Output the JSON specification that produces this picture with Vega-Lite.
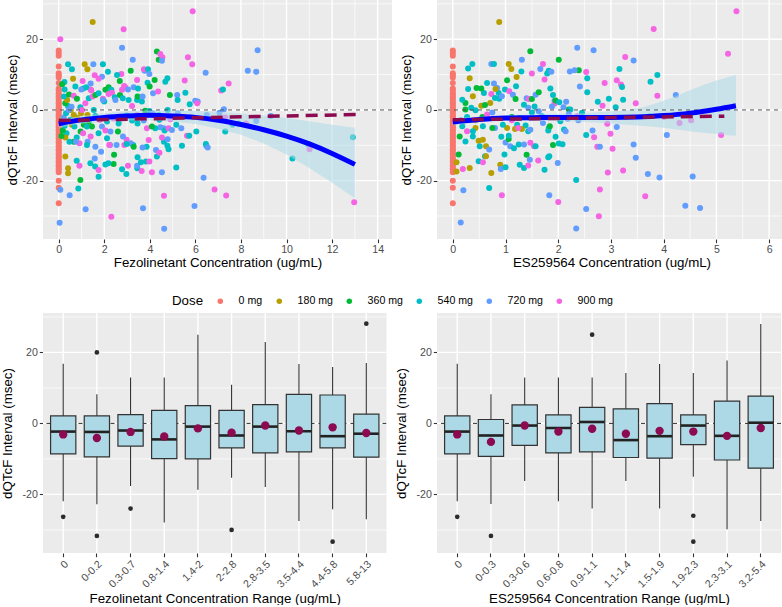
{
  "$schema": "https://vega.github.io/schema/vega-lite/v6.json",
  "background": "white",
  "padding": {"left": 0, "top": 0, "right": 0, "bottom": 0},
  "config": {
    "font": "Liberation Sans",
    "view": {"fill": "#EBEBEB", "stroke": null},
    "axis": {
      "domain": false, "grid": false,
      "labelColor": "#4D4D4D", "labelFontSize": 10.6, "labelPadding": 2, "labelFlush": false, "labelOverlap": false,
      "tickColor": "#333333", "tickSize": 3.7, "tickWidth": 1.1,
      "titleColor": "#000000", "titleFontSize": 13.3, "titleFontWeight": "normal"
    },
    "legend": {
      "titleFontSize": 13.3, "titleFontWeight": "normal", "titleColor": "#000000",
      "labelFontSize": 10.6, "labelColor": "#000000"
    }
  },
  "datasets": {
    "gFezMajor": [{"v":0},{"v":2},{"v":4},{"v":6},{"v":8},{"v":10},{"v":12},{"v":14}],
    "gFezMinor": [{"v":1},{"v":3},{"v":5},{"v":7},{"v":9},{"v":11},{"v":13}],
    "gEsMajor": [{"v":0},{"v":1},{"v":2},{"v":3},{"v":4},{"v":5},{"v":6}],
    "gEsMinor": [{"v":0.5},{"v":1.5},{"v":2.5},{"v":3.5},{"v":4.5},{"v":5.5}],
    "gYMajor": [{"v":-20},{"v":0},{"v":20}],
    "gYMinor": [{"v":-30},{"v":-10},{"v":10},{"v":30}],
    "pbo": [
      {"d":"0 mg","c":0,"q":16.8},{"d":"0 mg","c":0,"q":16.1},{"d":"0 mg","c":0,"q":15.3},{"d":"0 mg","c":0,"q":12.3},
      {"d":"0 mg","c":0,"q":10.4},{"d":"0 mg","c":0,"q":9.8},{"d":"0 mg","c":0,"q":9.2},{"d":"0 mg","c":0,"q":7.6},
      {"d":"0 mg","c":0,"q":6.1},{"d":"0 mg","c":0,"q":5.6},{"d":"0 mg","c":0,"q":4.8},{"d":"0 mg","c":0,"q":4.4},
      {"d":"0 mg","c":0,"q":3.7},{"d":"0 mg","c":0,"q":3.3},{"d":"0 mg","c":0,"q":2.6},{"d":"0 mg","c":0,"q":2.0},
      {"d":"0 mg","c":0,"q":1.7},{"d":"0 mg","c":0,"q":1.0},{"d":"0 mg","c":0,"q":0.4},{"d":"0 mg","c":0,"q":-0.2},
      {"d":"0 mg","c":0,"q":-0.6},{"d":"0 mg","c":0,"q":-1.3},{"d":"0 mg","c":0,"q":-1.8},{"d":"0 mg","c":0,"q":-2.1},
      {"d":"0 mg","c":0,"q":-2.9},{"d":"0 mg","c":0,"q":-3.4},{"d":"0 mg","c":0,"q":-3.8},{"d":"0 mg","c":0,"q":-4.5},
      {"d":"0 mg","c":0,"q":-4.9},{"d":"0 mg","c":0,"q":-5.6},{"d":"0 mg","c":0,"q":-6.0},{"d":"0 mg","c":0,"q":-6.7},
      {"d":"0 mg","c":0,"q":-7.1},{"d":"0 mg","c":0,"q":-7.8},{"d":"0 mg","c":0,"q":-8.2},{"d":"0 mg","c":0,"q":-8.9},
      {"d":"0 mg","c":0,"q":-9.3},{"d":"0 mg","c":0,"q":-10.0},{"d":"0 mg","c":0,"q":-10.4},{"d":"0 mg","c":0,"q":-11.1},
      {"d":"0 mg","c":0,"q":-11.5},{"d":"0 mg","c":0,"q":-12.2},{"d":"0 mg","c":0,"q":-12.6},{"d":"0 mg","c":0,"q":-13.3},
      {"d":"0 mg","c":0,"q":-13.7},{"d":"0 mg","c":0,"q":-14.4},{"d":"0 mg","c":0,"q":-14.8},{"d":"0 mg","c":0,"q":-15.5},
      {"d":"0 mg","c":0,"q":-15.9},{"d":"0 mg","c":0,"q":-16.6},{"d":"0 mg","c":0,"q":-17.0},{"d":"0 mg","c":0,"q":-17.6},
      {"d":"0 mg","c":0,"q":-20.0},{"d":"0 mg","c":0,"q":-22.0},{"d":"0 mg","c":0,"q":-26.4}
    ],
    "fez": [
      {"d":"180 mg","c":1.49,"q":24.9},{"d":"900 mg","c":5.88,"q":27.9},{"d":"900 mg","c":2.85,"q":22.8},{"d":"900 mg","c":0.07,"q":20.0},
      {"d":"720 mg","c":2.78,"q":17.6},{"d":"720 mg","c":8.73,"q":16.9},{"d":"360 mg","c":4.31,"q":16.5},{"d":"360 mg","c":4.39,"q":14.2},
      {"d":"900 mg","c":4.46,"q":15.8},{"d":"900 mg","c":4.55,"q":14.9},{"d":"720 mg","c":4.53,"q":13.9},{"d":"900 mg","c":5.67,"q":14.9},
      {"d":"720 mg","c":3.25,"q":14.2},{"d":"540 mg","c":0.41,"q":12.9},{"d":"180 mg","c":1.14,"q":12.9},{"d":"720 mg","c":1.52,"q":12.9},
      {"d":"540 mg","c":1.94,"q":12.9},{"d":"900 mg","c":5.86,"q":12.9},{"d":"540 mg","c":0.58,"q":11.5},{"d":"180 mg","c":1.26,"q":11.5},
      {"d":"360 mg","c":3.16,"q":11.1},{"d":"720 mg","c":6.45,"q":10.5},{"d":"720 mg","c":8.3,"q":11.1},{"d":"720 mg","c":8.67,"q":10.8},
      {"d":"540 mg","c":2.16,"q":10.8},{"d":"900 mg","c":2.75,"q":10.2},{"d":"360 mg","c":2.68,"q":8.2},{"d":"720 mg","c":3.77,"q":11.1},
      {"d":"900 mg","c":3.74,"q":11.5},{"d":"540 mg","c":3.92,"q":11.5},{"d":"720 mg","c":3.98,"q":10.2},{"d":"540 mg","c":2.56,"q":9.9},
      {"d":"720 mg","c":1.9,"q":9.4},{"d":"900 mg","c":1.75,"q":8.8},{"d":"900 mg","c":1.58,"q":9.8},{"d":"900 mg","c":1.05,"q":8.2},
      {"d":"180 mg","c":0.63,"q":8.8},{"d":"540 mg","c":0.25,"q":7.9},{"d":"540 mg","c":1.08,"q":6.1},{"d":"720 mg","c":0.99,"q":5.8},
      {"d":"360 mg","c":4.21,"q":8.5},{"d":"540 mg","c":4.68,"q":8.0},{"d":"540 mg","c":4.77,"q":9.0},{"d":"900 mg","c":7.46,"q":7.5},
      {"d":"900 mg","c":7.13,"q":5.5},{"d":"540 mg","c":7.21,"q":5.8},{"d":"540 mg","c":5.56,"q":4.9},{"d":"900 mg","c":5.53,"q":8.3},
      {"d":"360 mg","c":4.88,"q":4.2},{"d":"720 mg","c":5.2,"q":4.2},{"d":"540 mg","c":5.22,"q":2.8},{"d":"720 mg","c":5.99,"q":2.6},
      {"d":"720 mg","c":6.1,"q":2.4},{"d":"900 mg","c":6.08,"q":1.9},{"d":"540 mg","c":5.75,"q":1.6},{"d":"720 mg","c":6.5,"q":-1.4},
      {"d":"720 mg","c":7.25,"q":0.2},{"d":"720 mg","c":7.06,"q":-0.8},{"d":"900 mg","c":7.31,"q":-2.1},{"d":"540 mg","c":7.63,"q":-4.2},
      {"d":"540 mg","c":7.89,"q":-3.8},{"d":"900 mg","c":8.22,"q":-3.8},{"d":"720 mg","c":8.67,"q":-3.1},{"d":"720 mg","c":9.31,"q":-1.7},
      {"d":"540 mg","c":7.31,"q":-6.1},{"d":"540 mg","c":6.04,"q":-6.1},{"d":"900 mg","c":5.63,"q":-7.3},{"d":"540 mg","c":5.73,"q":-7.3},
      {"d":"540 mg","c":5.41,"q":-10.1},{"d":"540 mg","c":5.16,"q":-16.3},{"d":"720 mg","c":6.48,"q":-10.1},{"d":"540 mg","c":6.46,"q":-9.6},
      {"d":"720 mg","c":6.54,"q":-10.6},{"d":"720 mg","c":6.36,"q":-19.2},{"d":"720 mg","c":5.96,"q":-27.2},{"d":"900 mg","c":6.84,"q":-22.5},
      {"d":"900 mg","c":7.35,"q":-24.2},{"d":"540 mg","c":10.26,"q":-13.7},{"d":"540 mg","c":10.94,"q":-9.6},{"d":"900 mg","c":11.01,"q":-11.1},
      {"d":"540 mg","c":12.91,"q":-7.7},{"d":"900 mg","c":12.97,"q":-26.1},{"d":"720 mg","c":4.63,"q":-33.6},{"d":"900 mg","c":4.62,"q":-24.3},
      {"d":"720 mg","c":4.53,"q":-17.6},{"d":"720 mg","c":3.7,"q":-27.8},{"d":"900 mg","c":2.31,"q":-30.2},{"d":"720 mg","c":1.18,"q":-28.1},
      {"d":"720 mg","c":0.48,"q":-24.1},{"d":"720 mg","c":0.04,"q":-31.9},{"d":"720 mg","c":0.07,"q":-22.6},{"d":"540 mg","c":0.86,"q":-22.2},
      {"d":"360 mg","c":0.95,"q":-19.8},{"d":"540 mg","c":1.75,"q":-18.9},{"d":"900 mg","c":0.91,"q":-15.8},{"d":"540 mg","c":0.79,"q":-14.4},
      {"d":"180 mg","c":0.41,"q":-17.9},{"d":"180 mg","c":0.41,"q":-16.5},{"d":"180 mg","c":0.29,"q":-13.2},{"d":"540 mg","c":1.39,"q":-15.1},
      {"d":"720 mg","c":1.58,"q":-13.7},{"d":"540 mg","c":1.6,"q":-16.0},{"d":"900 mg","c":1.75,"q":-17.0},{"d":"540 mg","c":2.05,"q":-15.4},
      {"d":"720 mg","c":1.86,"q":-11.8},{"d":"360 mg","c":2.41,"q":-15.3},{"d":"540 mg","c":2.97,"q":-18.1},{"d":"540 mg","c":2.78,"q":-16.8},
      {"d":"900 mg","c":3.04,"q":-15.8},{"d":"360 mg","c":2.6,"q":-6.1},{"d":"540 mg","c":3.45,"q":-16.5},{"d":"720 mg","c":3.44,"q":-15.8},
      {"d":"900 mg","c":3.64,"q":-17.3},{"d":"900 mg","c":4.09,"q":-17.6},{"d":"540 mg","c":3.83,"q":-14.6},{"d":"540 mg","c":3.61,"q":-14.8},
      {"d":"900 mg","c":3.98,"q":-14.6},{"d":"720 mg","c":4.27,"q":-11.3},{"d":"540 mg","c":3.86,"q":-10.4},{"d":"720 mg","c":3.68,"q":-10.6},
      {"d":"540 mg","c":3.46,"q":-13.4},{"d":"540 mg","c":3.27,"q":-9.9},{"d":"720 mg","c":3.16,"q":-9.4},{"d":"900 mg","c":2.88,"q":-9.9},
      {"d":"360 mg","c":3.29,"q":-10.4},{"d":"900 mg","c":2.98,"q":-8.4},{"d":"540 mg","c":2.98,"q":-9.6},{"d":"720 mg","c":2.54,"q":-9.9},
      {"d":"720 mg","c":2.25,"q":-9.9},{"d":"540 mg","c":2.12,"q":-8.0},{"d":"540 mg","c":2.18,"q":-15.1},{"d":"360 mg","c":2.43,"q":-12.7},
      {"d":"720 mg","c":2.82,"q":-7.5},{"d":"540 mg","c":2.63,"q":-3.8},{"d":"900 mg","c":2.22,"q":-9.9},{"d":"720 mg","c":1.61,"q":-10.4},
      {"d":"720 mg","c":1.27,"q":-9.0},{"d":"540 mg","c":1.24,"q":-9.9},{"d":"900 mg","c":1.4,"q":-7.5},{"d":"360 mg","c":0.96,"q":-6.1},
      {"d":"900 mg","c":1.07,"q":-6.6},{"d":"540 mg","c":0.79,"q":-7.8},{"d":"360 mg","c":0.66,"q":-9.0},{"d":"540 mg","c":0.47,"q":-9.0},
      {"d":"900 mg","c":0.91,"q":-9.4},{"d":"720 mg","c":0.75,"q":-9.0},{"d":"540 mg","c":0.34,"q":-6.6},{"d":"180 mg","c":0.29,"q":-7.8},
      {"d":"360 mg","c":0.12,"q":-7.4},{"d":"360 mg","c":0.18,"q":-5.8},{"d":"540 mg","c":0.26,"q":-4.5},{"d":"180 mg","c":0.15,"q":-2.8},
      {"d":"720 mg","c":0.22,"q":-2.1},{"d":"540 mg","c":0.32,"q":-0.9},{"d":"180 mg","c":0.53,"q":0.0},{"d":"540 mg","c":0.41,"q":1.1},
      {"d":"360 mg","c":0.29,"q":1.9},{"d":"180 mg","c":0.37,"q":2.8},{"d":"540 mg","c":0.23,"q":3.8},{"d":"360 mg","c":0.45,"q":4.4},
      {"d":"900 mg","c":0.66,"q":4.0},{"d":"540 mg","c":0.26,"q":5.8},{"d":"360 mg","c":0.15,"q":7.3},{"d":"540 mg","c":0.73,"q":6.6},
      {"d":"360 mg","c":0.8,"q":3.2},{"d":"180 mg","c":0.66,"q":-1.4},{"d":"180 mg","c":0.8,"q":-2.2},{"d":"180 mg","c":0.98,"q":-0.9},
      {"d":"540 mg","c":0.95,"q":0.8},{"d":"900 mg","c":1.02,"q":0.0},{"d":"720 mg","c":0.56,"q":0.9},{"d":"720 mg","c":0.44,"q":0.0},
      {"d":"540 mg","c":0.51,"q":-2.8},{"d":"180 mg","c":0.58,"q":-4.2},{"d":"540 mg","c":0.69,"q":-4.7},{"d":"360 mg","c":1.1,"q":-4.2},
      {"d":"540 mg","c":1.24,"q":-4.7},{"d":"360 mg","c":1.46,"q":-4.7},{"d":"360 mg","c":1.32,"q":-3.3},{"d":"180 mg","c":1.26,"q":-1.4},
      {"d":"540 mg","c":1.54,"q":0.0},{"d":"900 mg","c":1.17,"q":1.9},{"d":"540 mg","c":1.32,"q":3.3},{"d":"900 mg","c":1.49,"q":3.8},
      {"d":"360 mg","c":1.61,"q":4.2},{"d":"900 mg","c":1.43,"q":5.5},{"d":"900 mg","c":1.4,"q":5.8},{"d":"540 mg","c":1.21,"q":6.4},
      {"d":"720 mg","c":1.4,"q":7.5},{"d":"540 mg","c":1.75,"q":4.7},{"d":"900 mg","c":1.94,"q":3.2},{"d":"540 mg","c":2.0,"q":2.4},
      {"d":"360 mg","c":2.05,"q":5.7},{"d":"720 mg","c":1.94,"q":2.8},{"d":"360 mg","c":2.19,"q":6.4},{"d":"540 mg","c":2.31,"q":5.7},
      {"d":"900 mg","c":2.34,"q":4.9},{"d":"900 mg","c":2.19,"q":4.5},{"d":"540 mg","c":2.46,"q":3.6},{"d":"720 mg","c":2.49,"q":2.8},
      {"d":"360 mg","c":2.69,"q":4.2},{"d":"900 mg","c":2.78,"q":5.7},{"d":"900 mg","c":2.87,"q":6.8},{"d":"900 mg","c":2.92,"q":6.4},
      {"d":"720 mg","c":3.04,"q":5.8},{"d":"540 mg","c":2.81,"q":3.3},{"d":"540 mg","c":3.07,"q":2.8},{"d":"900 mg","c":3.22,"q":1.1},
      {"d":"540 mg","c":3.44,"q":2.8},{"d":"360 mg","c":3.46,"q":3.8},{"d":"540 mg","c":3.65,"q":2.4},{"d":"720 mg","c":3.68,"q":3.8},
      {"d":"720 mg","c":3.29,"q":6.4},{"d":"540 mg","c":3.48,"q":6.1},{"d":"900 mg","c":3.44,"q":8.5},{"d":"540 mg","c":3.9,"q":7.7},
      {"d":"360 mg","c":3.99,"q":6.6},{"d":"720 mg","c":4.14,"q":4.7},{"d":"900 mg","c":4.36,"q":5.2},{"d":"360 mg","c":3.8,"q":-0.2},
      {"d":"540 mg","c":3.98,"q":-0.3},{"d":"720 mg","c":4.12,"q":-0.9},{"d":"540 mg","c":4.39,"q":-1.4},{"d":"900 mg","c":4.53,"q":-2.1},
      {"d":"540 mg","c":4.42,"q":-2.8},{"d":"720 mg","c":4.46,"q":-4.9},{"d":"540 mg","c":4.24,"q":-5.2},{"d":"720 mg","c":4.61,"q":-5.2},
      {"d":"540 mg","c":4.65,"q":-5.8},{"d":"900 mg","c":4.82,"q":-5.2},{"d":"720 mg","c":4.97,"q":-5.7},{"d":"540 mg","c":5.16,"q":-4.2},
      {"d":"720 mg","c":5.38,"q":-5.2},{"d":"900 mg","c":4.9,"q":-2.6},{"d":"540 mg","c":4.78,"q":0.0},{"d":"720 mg","c":5.23,"q":-0.9},
      {"d":"540 mg","c":3.46,"q":-3.8},{"d":"720 mg","c":3.73,"q":-3.0},{"d":"900 mg","c":3.87,"q":-5.2},{"d":"540 mg","c":3.22,"q":-3.0},
      {"d":"900 mg","c":3.44,"q":-1.4},{"d":"540 mg","c":2.99,"q":-1.6},{"d":"720 mg","c":2.73,"q":-2.4},{"d":"900 mg","c":2.41,"q":-2.4},
      {"d":"540 mg","c":2.12,"q":-3.3},{"d":"720 mg","c":1.9,"q":-4.7},{"d":"900 mg","c":2.05,"q":-5.8},{"d":"720 mg","c":2.27,"q":-6.1},
      {"d":"540 mg","c":1.75,"q":-6.6},{"d":"900 mg","c":1.8,"q":-2.8},{"d":"540 mg","c":1.61,"q":-1.7},{"d":"360 mg","c":4.09,"q":-4.7},
      {"d":"900 mg","c":3.95,"q":-8.5},{"d":"540 mg","c":4.62,"q":-9.0},{"d":"540 mg","c":4.77,"q":-10.1},{"d":"900 mg","c":4.53,"q":-7.8},
      {"d":"720 mg","c":4.78,"q":-8.3},{"d":"540 mg","c":4.31,"q":-13.2},{"d":"900 mg","c":4.42,"q":-12.1},{"d":"540 mg","c":4.82,"q":-11.1}
    ],
    "es": [
      {"d":"180 mg","c":0.88,"q":24.9},{"d":"900 mg","c":5.38,"q":27.9},{"d":"900 mg","c":3.81,"q":22.9},{"d":"720 mg","c":2.36,"q":17.6},
      {"d":"720 mg","c":2.67,"q":16.9},{"d":"360 mg","c":1.47,"q":16.6},{"d":"900 mg","c":5.22,"q":15.9},{"d":"360 mg","c":2.01,"q":14.2},
      {"d":"720 mg","c":1.31,"q":14.2},{"d":"900 mg","c":3.27,"q":15.0},{"d":"720 mg","c":3.43,"q":14.0},{"d":"540 mg","c":0.37,"q":13.0},
      {"d":"540 mg","c":0.29,"q":11.7},{"d":"720 mg","c":0.73,"q":13.0},{"d":"540 mg","c":0.78,"q":13.0},{"d":"180 mg","c":1.06,"q":13.0},
      {"d":"180 mg","c":1.11,"q":11.6},{"d":"900 mg","c":1.71,"q":13.0},{"d":"540 mg","c":1.30,"q":10.9},{"d":"900 mg","c":1.5,"q":10.3},
      {"d":"720 mg","c":1.66,"q":11.6},{"d":"540 mg","c":1.79,"q":10.3},{"d":"540 mg","c":1.82,"q":11.1},{"d":"720 mg","c":1.87,"q":10.8},
      {"d":"360 mg","c":2.39,"q":11.2},{"d":"720 mg","c":2.22,"q":10.9},{"d":"720 mg","c":2.31,"q":11.2},{"d":"900 mg","c":2.53,"q":10.7},
      {"d":"540 mg","c":2.55,"q":9.0},{"d":"540 mg","c":3.16,"q":11.6},{"d":"900 mg","c":3.11,"q":8.4},{"d":"540 mg","c":3.75,"q":8.0},
      {"d":"540 mg","c":3.88,"q":9.9},{"d":"900 mg","c":2.88,"q":7.6},{"d":"720 mg","c":2.41,"q":6.6},{"d":"900 mg","c":3.19,"q":7.2},
      {"d":"540 mg","c":3.21,"q":6.5},{"d":"540 mg","c":2.55,"q":5.0},{"d":"720 mg","c":4.23,"q":4.2},{"d":"900 mg","c":3.88,"q":4.0},
      {"d":"540 mg","c":2.96,"q":3.2},{"d":"540 mg","c":3.23,"q":2.9},{"d":"540 mg","c":2.75,"q":2.3},{"d":"900 mg","c":2.84,"q":1.2},
      {"d":"900 mg","c":3.47,"q":1.9},{"d":"540 mg","c":3.09,"q":0.8},{"d":"540 mg","c":3.73,"q":-1.8},{"d":"900 mg","c":4.01,"q":-2.0},
      {"d":"720 mg","c":3.11,"q":-4.8},{"d":"900 mg","c":4.3,"q":-3.7},{"d":"900 mg","c":4.52,"q":-2.9},{"d":"900 mg","c":5.09,"q":-7.1},
      {"d":"720 mg","c":4.06,"q":-7.1},{"d":"900 mg","c":2.99,"q":-6.7},{"d":"900 mg","c":2.93,"q":-3.9},{"d":"720 mg","c":2.65,"q":-5.8},
      {"d":"900 mg","c":2.68,"q":-7.7},{"d":"540 mg","c":2.53,"q":-7.1},{"d":"900 mg","c":3.03,"q":-11.0},{"d":"900 mg","c":2.74,"q":-10.4},
      {"d":"720 mg","c":2.79,"q":-10.4},{"d":"720 mg","c":3.43,"q":-9.8},{"d":"720 mg","c":3.47,"q":-13.5},{"d":"900 mg","c":3.23,"q":-17.1},
      {"d":"900 mg","c":2.94,"q":-17.7},{"d":"720 mg","c":3.7,"q":-18.1},{"d":"720 mg","c":3.92,"q":-19.1},{"d":"720 mg","c":4.55,"q":-18.8},
      {"d":"900 mg","c":2.79,"q":-22.5},{"d":"900 mg","c":3.65,"q":-24.4},{"d":"720 mg","c":4.41,"q":-27.1},{"d":"720 mg","c":4.69,"q":-27.7},
      {"d":"900 mg","c":2.77,"q":-30.1},{"d":"720 mg","c":2.53,"q":-28.0},{"d":"720 mg","c":2.34,"q":-33.5},{"d":"540 mg","c":2.34,"q":-19.8},
      {"d":"900 mg","c":2.0,"q":-26.0},{"d":"720 mg","c":1.83,"q":-24.1},{"d":"900 mg","c":0.93,"q":-24.1},{"d":"720 mg","c":0.15,"q":-31.8},
      {"d":"720 mg","c":0.2,"q":-22.7},{"d":"540 mg","c":0.69,"q":-22.1},{"d":"900 mg","c":0.19,"q":-16.7},{"d":"180 mg","c":0.07,"q":-17.4},
      {"d":"180 mg","c":0.07,"q":-14.8},{"d":"180 mg","c":0.32,"q":-16.4},{"d":"360 mg","c":0.11,"q":-12.6},{"d":"360 mg","c":0.13,"q":-7.5},
      {"d":"180 mg","c":0.49,"q":-8.7},{"d":"540 mg","c":0.24,"q":-8.9},{"d":"540 mg","c":0.38,"q":-7.5},{"d":"540 mg","c":0.51,"q":-10.3},
      {"d":"540 mg","c":0.49,"q":-14.5},{"d":"180 mg","c":0.57,"q":-8.4},{"d":"540 mg","c":0.61,"q":-13.1},{"d":"900 mg","c":0.57,"q":-14.8},
      {"d":"180 mg","c":0.63,"q":-10.3},{"d":"720 mg","c":0.69,"q":-11.2},{"d":"180 mg","c":0.63,"q":-13.1},{"d":"180 mg","c":0.73,"q":-17.8},
      {"d":"180 mg","c":0.9,"q":-15.5},{"d":"720 mg","c":0.91,"q":-16.7},{"d":"540 mg","c":1.0,"q":-16.2},{"d":"540 mg","c":0.98,"q":-12.6},
      {"d":"720 mg","c":1.0,"q":-9.2},{"d":"540 mg","c":0.92,"q":-7.6},{"d":"360 mg","c":1.06,"q":-8.2},{"d":"540 mg","c":1.06,"q":-7.3},
      {"d":"180 mg","c":1.03,"q":-5.1},{"d":"540 mg","c":0.95,"q":-4.2},{"d":"720 mg","c":1.09,"q":-10.3},{"d":"540 mg","c":1.16,"q":-10.8},
      {"d":"540 mg","c":1.25,"q":-9.8},{"d":"720 mg","c":1.35,"q":-9.8},{"d":"540 mg","c":1.27,"q":-15.5},{"d":"540 mg","c":1.35,"q":-16.4},
      {"d":"900 mg","c":1.43,"q":-15.7},{"d":"360 mg","c":1.4,"q":-12.7},{"d":"720 mg","c":1.46,"q":-14.1},{"d":"900 mg","c":1.47,"q":-9.3},
      {"d":"900 mg","c":1.54,"q":-10.3},{"d":"540 mg","c":1.57,"q":-10.3},{"d":"900 mg","c":1.62,"q":-14.3},{"d":"540 mg","c":1.74,"q":-16.9},
      {"d":"540 mg","c":1.81,"q":-13.4},{"d":"540 mg","c":1.83,"q":-13.1},{"d":"360 mg","c":1.9,"q":-9.9},{"d":"540 mg","c":2.01,"q":-9.5},
      {"d":"720 mg","c":1.99,"q":-15.0},{"d":"540 mg","c":2.08,"q":-9.7},{"d":"540 mg","c":2.11,"q":-5.5},{"d":"720 mg","c":2.14,"q":-6.0},
      {"d":"540 mg","c":1.95,"q":-7.6},{"d":"540 mg","c":1.82,"q":-5.1},{"d":"540 mg","c":1.81,"q":-5.8},{"d":"360 mg","c":1.84,"q":-4.6},
      {"d":"720 mg","c":1.71,"q":-3.7},{"d":"540 mg","c":1.69,"q":-1.8},{"d":"540 mg","c":1.43,"q":-6.0},{"d":"720 mg","c":1.47,"q":-5.6},
      {"d":"540 mg","c":1.38,"q":-4.4},{"d":"180 mg","c":1.31,"q":-5.4},{"d":"540 mg","c":1.22,"q":-4.2},{"d":"180 mg","c":1.18,"q":-5.4},
      {"d":"900 mg","c":1.12,"q":-2.9},{"d":"360 mg","c":1.12,"q":-2.0},{"d":"720 mg","c":0.8,"q":-5.1},{"d":"360 mg","c":0.75,"q":-5.1},
      {"d":"540 mg","c":0.57,"q":-4.6},{"d":"180 mg","c":0.43,"q":-5.1},{"d":"540 mg","c":0.38,"q":-6.0},{"d":"900 mg","c":0.27,"q":-6.0},
      {"d":"540 mg","c":0.18,"q":-4.6},{"d":"720 mg","c":0.15,"q":-2.9},{"d":"540 mg","c":0.27,"q":-2.0},{"d":"180 mg","c":0.43,"q":-2.9},
      {"d":"360 mg","c":0.56,"q":-2.0},{"d":"900 mg","c":0.65,"q":-1.3},{"d":"720 mg","c":0.75,"q":-0.7},{"d":"540 mg","c":0.43,"q":-0.1},
      {"d":"360 mg","c":0.24,"q":0.1},{"d":"540 mg","c":0.35,"q":0.6},{"d":"180 mg","c":0.54,"q":1.2},{"d":"360 mg","c":0.24,"q":2.0},
      {"d":"540 mg","c":0.18,"q":2.9},{"d":"180 mg","c":0.38,"q":3.9},{"d":"540 mg","c":0.59,"q":4.8},{"d":"360 mg","c":0.54,"q":6.1},
      {"d":"540 mg","c":0.29,"q":5.9},{"d":"360 mg","c":0.45,"q":6.2},{"d":"180 mg","c":0.32,"q":9.0},{"d":"540 mg","c":0.65,"q":7.6},
      {"d":"720 mg","c":0.78,"q":7.5},{"d":"720 mg","c":0.84,"q":6.2},{"d":"900 mg","c":0.73,"q":4.5},{"d":"540 mg","c":0.8,"q":3.4},
      {"d":"540 mg","c":0.87,"q":4.8},{"d":"180 mg","c":0.81,"q":5.9},{"d":"180 mg","c":0.71,"q":2.0},{"d":"360 mg","c":0.61,"q":1.4},
      {"d":"540 mg","c":0.88,"q":3.2},{"d":"720 mg","c":0.93,"q":3.9},{"d":"360 mg","c":1.03,"q":8.4},{"d":"540 mg","c":0.99,"q":5.8},
      {"d":"900 mg","c":1.07,"q":5.3},{"d":"540 mg","c":1.2,"q":6.7},{"d":"720 mg","c":1.14,"q":4.3},{"d":"360 mg","c":1.19,"q":3.1},
      {"d":"180 mg","c":1.21,"q":9.3},{"d":"720 mg","c":1.4,"q":3.3},{"d":"900 mg","c":1.44,"q":3.1},{"d":"360 mg","c":1.5,"q":3.1},
      {"d":"720 mg","c":1.57,"q":4.3},{"d":"360 mg","c":1.63,"q":5.0},{"d":"900 mg","c":1.74,"q":8.6},{"d":"540 mg","c":1.85,"q":6.1},
      {"d":"720 mg","c":1.93,"q":2.6},{"d":"900 mg","c":1.93,"q":1.8},{"d":"720 mg","c":1.88,"q":1.0},{"d":"540 mg","c":1.9,"q":4.2},
      {"d":"360 mg","c":1.95,"q":2.7},{"d":"540 mg","c":2.02,"q":2.2},{"d":"720 mg","c":2.15,"q":2.3},{"d":"360 mg","c":2.2,"q":0.1},
      {"d":"720 mg","c":2.1,"q":0.8},{"d":"540 mg","c":2.23,"q":0.1},{"d":"720 mg","c":2.2,"q":-1.2},{"d":"900 mg","c":2.36,"q":-1.8},
      {"d":"720 mg","c":2.38,"q":-2.9},{"d":"540 mg","c":2.04,"q":-3.2},{"d":"720 mg","c":2.18,"q":-2.5},{"d":"540 mg","c":1.5,"q":-0.7},
      {"d":"720 mg","c":1.63,"q":-0.4},{"d":"900 mg","c":1.24,"q":-5.1},{"d":"360 mg","c":1.26,"q":-2.3},{"d":"720 mg","c":1.43,"q":0.6},
      {"d":"540 mg","c":1.55,"q":1.0},{"d":"540 mg","c":1.35,"q":1.5},{"d":"540 mg","c":2.45,"q":-0.8}
    ],
    "fezFit": [
      {"c":0,"fit":-3.9,"lo":-5.0,"hi":-2.8},{"c":0.5,"fit":-3.3,"lo":-4.4,"hi":-2.2},{"c":1,"fit":-2.8,"lo":-3.9,"hi":-1.7},
      {"c":2,"fit":-2.1,"lo":-3.3,"hi":-0.9},{"c":3,"fit":-1.7,"lo":-3.0,"hi":-0.4},{"c":4,"fit":-1.5,"lo":-2.9,"hi":-0.1},
      {"c":5,"fit":-1.7,"lo":-3.3,"hi":-0.1},{"c":6,"fit":-2.1,"lo":-4.0,"hi":-0.2},{"c":7,"fit":-2.9,"lo":-5.3,"hi":-0.5},
      {"c":8,"fit":-4.1,"lo":-7.0,"hi":-1.0},{"c":9,"fit":-5.6,"lo":-9.5,"hi":-1.6},{"c":10,"fit":-7.4,"lo":-12.6,"hi":-2.3},
      {"c":11,"fit":-9.6,"lo":-16.4,"hi":-3.2},{"c":12,"fit":-12.3,"lo":-20.6,"hi":-4.2},{"c":13,"fit":-15.4,"lo":-25.0,"hi":-5.0}
    ],
    "esFit": [
      {"c":0,"fit":-3.4,"lo":-4.4,"hi":-2.4},{"c":0.5,"fit":-2.7,"lo":-3.5,"hi":-1.9},{"c":1,"fit":-2.3,"lo":-3.1,"hi":-1.5},
      {"c":1.5,"fit":-2.2,"lo":-3.1,"hi":-1.3},{"c":2,"fit":-2.1,"lo":-3.1,"hi":-1.1},{"c":2.5,"fit":-2.1,"lo":-3.4,"hi":-0.9},
      {"c":3,"fit":-2.1,"lo":-3.8,"hi":-0.4},{"c":3.5,"fit":-2.0,"lo":-4.4,"hi":0.4},{"c":4,"fit":-1.6,"lo":-5.0,"hi":2.6},
      {"c":4.5,"fit":-0.9,"lo":-6.0,"hi":5.6},{"c":5,"fit":0.2,"lo":-6.8,"hi":8.3},{"c":5.37,"fit":1.2,"lo":-7.3,"hi":9.9}
    ],
    "fezLin": [{"c":0,"fit":-3.0},{"c":13.05,"fit":-1.3}],
    "esLin": [{"c":0,"fit":-2.8},{"c":5.15,"fit":-1.75}],
    "fezBox": [
      {"g":"0","lo":-21.9,"q1":-8.6,"med":-2.3,"q3":2.1,"hi":16.8,"mean":-3.1},
      {"g":"0-0.2","lo":-22.8,"q1":-9.4,"med":-2.4,"q3":2.1,"hi":8.2,"mean":-4.1},
      {"g":"0.3-0.7","lo":-17.6,"q1":-6.4,"med":-2.0,"q3":2.5,"hi":12.9,"mean":-2.4},
      {"g":"0.8-1.4","lo":-27.9,"q1":-9.9,"med":-4.5,"q3":3.7,"hi":12.9,"mean":-3.7},
      {"g":"1.4-2","lo":-18.7,"q1":-10.0,"med":-0.9,"q3":5.0,"hi":25.0,"mean":-1.4},
      {"g":"2-2.8","lo":-15.3,"q1":-6.9,"med":-3.4,"q3":3.7,"hi":10.9,"mean":-2.6},
      {"g":"2.8-3.5","lo":-17.9,"q1":-8.3,"med":-0.9,"q3":5.3,"hi":22.9,"mean":-0.6},
      {"g":"3.5-4.4","lo":-27.5,"q1":-8.0,"med":-2.2,"q3":8.2,"hi":16.7,"mean":-2.0},
      {"g":"4.4-5.8","lo":-24.2,"q1":-6.9,"med":-3.6,"q3":8.0,"hi":15.9,"mean":-1.1},
      {"g":"5.8-13","lo":-27.0,"q1":-9.5,"med":-2.9,"q3":2.6,"hi":17.0,"mean":-2.7}
    ],
    "fezOut": [
      {"g":"0","q":-26.3},{"g":"0-0.2","q":20.0},{"g":"0-0.2","q":-31.7},{"g":"0.3-0.7","q":-24.0},
      {"g":"2-2.8","q":-30.0},{"g":"4.4-5.8","q":-33.3},{"g":"5.8-13","q":28.1}
    ],
    "esBox": [
      {"g":"0","lo":-21.9,"q1":-8.6,"med":-2.3,"q3":2.1,"hi":16.8,"mean":-3.1},
      {"g":"0-0.3","lo":-22.7,"q1":-9.3,"med":-3.4,"q3":1.1,"hi":8.2,"mean":-5.2},
      {"g":"0.3-0.6","lo":-16.2,"q1":-6.2,"med":-0.6,"q3":5.2,"hi":12.9,"mean":-0.6},
      {"g":"0.6-0.8","lo":-21.9,"q1":-8.3,"med":-1.3,"q3":2.4,"hi":12.9,"mean":-2.3},
      {"g":"0.9-1.1","lo":-24.0,"q1":-8.0,"med":0.4,"q3":4.5,"hi":12.9,"mean":-1.5},
      {"g":"1.1-1.4","lo":-16.2,"q1":-9.6,"med":-4.7,"q3":4.1,"hi":14.2,"mean":-2.9},
      {"g":"1.5-1.9","lo":-24.0,"q1":-9.8,"med":-3.6,"q3":5.6,"hi":16.7,"mean":-2.1},
      {"g":"1.9-2.3","lo":-15.0,"q1":-6.0,"med":-0.6,"q3":2.4,"hi":14.2,"mean":-2.3},
      {"g":"2.3-3.1","lo":-29.8,"q1":-10.3,"med":-3.5,"q3":6.3,"hi":17.7,"mean":-3.5},
      {"g":"3.2-5.4","lo":-27.5,"q1":-12.6,"med":0.2,"q3":7.7,"hi":28.0,"mean":-1.3}
    ],
    "esOut": [
      {"g":"0","q":-26.3},{"g":"0-0.3","q":-31.7},{"g":"0.9-1.1","q":25.0},{"g":"1.9-2.3","q":-26.0},{"g":"1.9-2.3","q":-33.3}
    ]
  },
  "columns": 1,
  "align": "none",
  "spacing": 43,
  "concat": [
    {
      "hconcat": [
        {
          "width": 349, "height": 239,
          "resolve": {"axis": {"x": "independent", "y": "independent"}},
          "layer": [
            {"data": {"name": "gFezMajor"}, "mark": {"type": "rule", "color": "#FFFFFF", "strokeWidth": 1.4, "clip": true},
             "encoding": {"x": {"field": "v", "type": "quantitative", "axis": null}}},
            {"data": {"name": "gFezMinor"}, "mark": {"type": "rule", "color": "#FFFFFF", "strokeWidth": 0.7, "clip": true},
             "encoding": {"x": {"field": "v", "type": "quantitative", "axis": null}}},
            {"data": {"name": "gYMajor"}, "mark": {"type": "rule", "color": "#FFFFFF", "strokeWidth": 1.4, "clip": true},
             "encoding": {"y": {"field": "v", "type": "quantitative", "axis": null}}},
            {"data": {"name": "gYMinor"}, "mark": {"type": "rule", "color": "#FFFFFF", "strokeWidth": 0.7, "clip": true},
             "encoding": {"y": {"field": "v", "type": "quantitative", "axis": null}}},
            {
              "data": {"name": "pbo"},
              "mark": {"type": "circle", "size": 36, "opacity": 1},
              "encoding": {
                "x": {"field": "c", "type": "quantitative",
                  "scale": {"domain": [-0.69, 14.63], "nice": false, "zero": false},
                  "axis": {"title": "Fezolinetant Concentration (ug/mL)", "orient": "bottom", "values": [0,2,4,6,8,10,12,14],
                    "labelExpr": "'' + datum.value", "titlePadding": 0.5}},
                "y": {"field": "q", "type": "quantitative",
                  "scale": {"domain": [-36.5, 31.1], "nice": false, "zero": false},
                  "axis": {"title": "dQTcF Interval (msec)", "orient": "left", "values": [-20,0,20],
                    "labelExpr": "'' + datum.value", "titlePadding": 2.2}},
                "color": {"field": "d", "type": "nominal",
                  "scale": {"domain": ["0 mg","180 mg","360 mg","540 mg","720 mg","900 mg"],
                            "range": ["#F8766D","#B79F00","#00BA38","#00BFC4","#619CFF","#F564E3"]},
                  "legend": {"title": "Dose", "orient": "none", "direction": "horizontal", "legendX": 129, "legendY": 296,
                    "titleOrient": "left", "titlePadding": 11, "symbolType": "circle", "symbolSize": 30,
                    "labelOffset": 13, "columnPadding": 11}}
              }
            },
            {
              "data": {"name": "fez"},
              "mark": {"type": "circle", "size": 36, "opacity": 1},
              "encoding": {
                "x": {"field": "c", "type": "quantitative", "axis": null},
                "y": {"field": "q", "type": "quantitative", "axis": null},
                "color": {"field": "d", "type": "nominal", "legend": null}
              }
            },
            {
              "data": {"name": "fezFit"},
              "mark": {"type": "area", "color": "#ADD8E6", "opacity": 0.55},
              "encoding": {
                "x": {"field": "c", "type": "quantitative", "axis": null},
                "y": {"field": "lo", "type": "quantitative", "axis": null},
                "y2": {"field": "hi"}
              }
            },
            {
              "data": {"values": [{}]},
              "mark": {"type": "rule", "color": "#555555", "strokeDash": [4, 4], "strokeWidth": 1, "clip": true},
              "encoding": {"y": {"datum": 0, "type": "quantitative", "axis": null}}
            },
            {
              "data": {"name": "fezFit"},
              "mark": {"type": "line", "color": "#0000FF", "strokeWidth": 5, "interpolate": "monotone"},
              "encoding": {
                "x": {"field": "c", "type": "quantitative", "axis": null},
                "y": {"field": "fit", "type": "quantitative", "axis": null}
              }
            },
            {
              "data": {"name": "fezLin"},
              "mark": {"type": "line", "color": "#8B0A50", "strokeWidth": 3.5, "strokeDash": [12, 7]},
              "encoding": {
                "x": {"field": "c", "type": "quantitative", "axis": null},
                "y": {"field": "fit", "type": "quantitative", "axis": null}
              }
            }
          ]
        },
        {
          "width": 349, "height": 239,
          "resolve": {"axis": {"x": "independent", "y": "independent"}},
          "layer": [
            {"data": {"name": "gEsMajor"}, "mark": {"type": "rule", "color": "#FFFFFF", "strokeWidth": 1.4, "clip": true},
             "encoding": {"x": {"field": "v", "type": "quantitative", "axis": null}}},
            {"data": {"name": "gEsMinor"}, "mark": {"type": "rule", "color": "#FFFFFF", "strokeWidth": 0.7, "clip": true},
             "encoding": {"x": {"field": "v", "type": "quantitative", "axis": null}}},
            {"data": {"name": "gYMajor"}, "mark": {"type": "rule", "color": "#FFFFFF", "strokeWidth": 1.4, "clip": true},
             "encoding": {"y": {"field": "v", "type": "quantitative", "axis": null}}},
            {"data": {"name": "gYMinor"}, "mark": {"type": "rule", "color": "#FFFFFF", "strokeWidth": 0.7, "clip": true},
             "encoding": {"y": {"field": "v", "type": "quantitative", "axis": null}}},
            {
              "data": {"name": "pbo"},
              "mark": {"type": "circle", "size": 36, "opacity": 1},
              "encoding": {
                "x": {"field": "c", "type": "quantitative",
                  "scale": {"domain": [-0.3, 6.32], "nice": false, "zero": false},
                  "axis": {"title": "ES259564 Concentration (ug/mL)", "orient": "bottom", "values": [0,1,2,3,4,5,6],
                    "labelExpr": "'' + datum.value", "titlePadding": 0.5}},
                "y": {"field": "q", "type": "quantitative",
                  "scale": {"domain": [-36.5, 31.1], "nice": false, "zero": false},
                  "axis": {"title": "dQTcF Interval (msec)", "orient": "left", "values": [-20,0,20],
                    "labelExpr": "'' + datum.value", "titlePadding": 2.2}},
                "color": {"field": "d", "type": "nominal", "legend": null}
              }
            },
            {
              "data": {"name": "es"},
              "mark": {"type": "circle", "size": 36, "opacity": 1},
              "encoding": {
                "x": {"field": "c", "type": "quantitative", "axis": null},
                "y": {"field": "q", "type": "quantitative", "axis": null},
                "color": {"field": "d", "type": "nominal", "legend": null}
              }
            },
            {
              "data": {"name": "esFit"},
              "mark": {"type": "area", "color": "#ADD8E6", "opacity": 0.55, "interpolate": "monotone"},
              "encoding": {
                "x": {"field": "c", "type": "quantitative", "axis": null},
                "y": {"field": "lo", "type": "quantitative", "axis": null},
                "y2": {"field": "hi"}
              }
            },
            {
              "data": {"values": [{}]},
              "mark": {"type": "rule", "color": "#555555", "strokeDash": [4, 4], "strokeWidth": 1, "clip": true},
              "encoding": {"y": {"datum": 0, "type": "quantitative", "axis": null}}
            },
            {
              "data": {"name": "esFit"},
              "mark": {"type": "line", "color": "#0000FF", "strokeWidth": 5, "interpolate": "monotone"},
              "encoding": {
                "x": {"field": "c", "type": "quantitative", "axis": null},
                "y": {"field": "fit", "type": "quantitative", "axis": null}
              }
            },
            {
              "data": {"name": "esLin"},
              "mark": {"type": "line", "color": "#8B0A50", "strokeWidth": 3.5, "strokeDash": [12, 7]},
              "encoding": {
                "x": {"field": "c", "type": "quantitative", "axis": null},
                "y": {"field": "fit", "type": "quantitative", "axis": null}
              }
            }
          ]
        }
      ],
      "spacing": 45,
      "bounds": "flush"
    },
    {
      "hconcat": [
        {
          "width": 343.5, "height": 240,
          "resolve": {"axis": {"x": "independent", "y": "independent"}},
          "layer": [
            {"data": {"name": "gYMajor"}, "mark": {"type": "rule", "color": "#FFFFFF", "strokeWidth": 1.4, "clip": true},
             "encoding": {"y": {"field": "v", "type": "quantitative", "axis": null}}},
            {"data": {"name": "gYMinor"}, "mark": {"type": "rule", "color": "#FFFFFF", "strokeWidth": 0.7, "clip": true},
             "encoding": {"y": {"field": "v", "type": "quantitative", "axis": null}}},
            {"data": {"name": "fezBox"}, "mark": {"type": "rule", "color": "#FFFFFF", "strokeWidth": 1.4, "clip": true},
             "encoding": {"x": {"field": "g", "type": "nominal", "axis": null}}},
            {
              "data": {"values": [{}]},
              "mark": {"type": "rule", "color": "#333333", "strokeDash": [4, 4], "strokeWidth": 1, "clip": true},
              "encoding": {"y": {"datum": 0, "type": "quantitative",
                "scale": {"domain": [-36.5, 31.1], "nice": false, "zero": false},
                "axis": {"title": "dQTcF Interval (msec)", "orient": "left", "values": [-20,0,20],
                  "labelExpr": "'' + datum.value", "titlePadding": 7.8}}}
            },
            {
              "data": {"name": "fezBox"},
              "mark": {"type": "rule", "color": "#333333", "strokeWidth": 1.1},
              "encoding": {
                "x": {"field": "g", "type": "nominal",
                  "scale": {"domain": ["0","0-0.2","0.3-0.7","0.8-1.4","1.4-2","2-2.8","2.8-3.5","3.5-4.4","4.4-5.8","5.8-13"], "paddingInner": 0, "paddingOuter": 0.1},
                  "axis": {"title": "Fezolinetant Concentration Range (ug/mL)", "orient": "bottom", "labelAngle": -45, "labelAlign": "right", "labelBaseline": "top", "titlePadding": 2}},
                "y": {"field": "lo", "type": "quantitative", "axis": null},
                "y2": {"field": "hi"}
              }
            },
            {
              "data": {"name": "fezBox"},
              "mark": {"type": "bar", "width": {"band": 0.75}, "fill": "#ADD8E6", "stroke": "#333333", "strokeWidth": 1.2},
              "encoding": {
                "x": {"field": "g", "type": "nominal", "axis": null},
                "y": {"field": "q1", "type": "quantitative", "axis": null},
                "y2": {"field": "q3"}
              }
            },
            {
              "data": {"name": "fezBox"},
              "mark": {"type": "tick", "color": "#222222", "size": 25, "thickness": 2.6, "opacity": 1},
              "encoding": {
                "x": {"field": "g", "type": "nominal", "axis": null},
                "y": {"field": "med", "type": "quantitative", "axis": null}
              }
            },
            {
              "data": {"name": "fezOut"},
              "mark": {"type": "circle", "size": 22, "color": "#2B2B2B", "opacity": 1},
              "encoding": {
                "x": {"field": "g", "type": "nominal", "axis": null},
                "y": {"field": "q", "type": "quantitative", "axis": null}
              }
            },
            {
              "data": {"name": "fezBox"},
              "mark": {"type": "circle", "size": 70, "color": "#8B0A50", "opacity": 1},
              "encoding": {
                "x": {"field": "g", "type": "nominal", "axis": null},
                "y": {"field": "mean", "type": "quantitative", "axis": null}
              }
            }
          ]
        },
        {
          "width": 344, "height": 240,
          "resolve": {"axis": {"x": "independent", "y": "independent"}},
          "layer": [
            {"data": {"name": "gYMajor"}, "mark": {"type": "rule", "color": "#FFFFFF", "strokeWidth": 1.4, "clip": true},
             "encoding": {"y": {"field": "v", "type": "quantitative", "axis": null}}},
            {"data": {"name": "gYMinor"}, "mark": {"type": "rule", "color": "#FFFFFF", "strokeWidth": 0.7, "clip": true},
             "encoding": {"y": {"field": "v", "type": "quantitative", "axis": null}}},
            {"data": {"name": "esBox"}, "mark": {"type": "rule", "color": "#FFFFFF", "strokeWidth": 1.4, "clip": true},
             "encoding": {"x": {"field": "g", "type": "nominal", "axis": null}}},
            {
              "data": {"values": [{}]},
              "mark": {"type": "rule", "color": "#333333", "strokeDash": [4, 4], "strokeWidth": 1, "clip": true},
              "encoding": {"y": {"datum": 0, "type": "quantitative",
                "scale": {"domain": [-36.5, 31.1], "nice": false, "zero": false},
                "axis": {"title": "dQTcF Interval (msec)", "orient": "left", "values": [-20,0,20],
                  "labelExpr": "'' + datum.value", "titlePadding": 7.8}}}
            },
            {
              "data": {"name": "esBox"},
              "mark": {"type": "rule", "color": "#333333", "strokeWidth": 1.1},
              "encoding": {
                "x": {"field": "g", "type": "nominal",
                  "scale": {"domain": ["0","0-0.3","0.3-0.6","0.6-0.8","0.9-1.1","1.1-1.4","1.5-1.9","1.9-2.3","2.3-3.1","3.2-5.4"], "paddingInner": 0, "paddingOuter": 0.1},
                  "axis": {"title": "ES259564 Concentration Range (ug/mL)", "orient": "bottom", "labelAngle": -45, "labelAlign": "right", "labelBaseline": "top", "titlePadding": 2}},
                "y": {"field": "lo", "type": "quantitative", "axis": null},
                "y2": {"field": "hi"}
              }
            },
            {
              "data": {"name": "esBox"},
              "mark": {"type": "bar", "width": {"band": 0.75}, "fill": "#ADD8E6", "stroke": "#333333", "strokeWidth": 1.2},
              "encoding": {
                "x": {"field": "g", "type": "nominal", "axis": null},
                "y": {"field": "q1", "type": "quantitative", "axis": null},
                "y2": {"field": "q3"}
              }
            },
            {
              "data": {"name": "esBox"},
              "mark": {"type": "tick", "color": "#222222", "size": 25, "thickness": 2.6, "opacity": 1},
              "encoding": {
                "x": {"field": "g", "type": "nominal", "axis": null},
                "y": {"field": "med", "type": "quantitative", "axis": null}
              }
            },
            {
              "data": {"name": "esOut"},
              "mark": {"type": "circle", "size": 22, "color": "#2B2B2B", "opacity": 1},
              "encoding": {
                "x": {"field": "g", "type": "nominal", "axis": null},
                "y": {"field": "q", "type": "quantitative", "axis": null}
              }
            },
            {
              "data": {"name": "esBox"},
              "mark": {"type": "circle", "size": 70, "color": "#8B0A50", "opacity": 1},
              "encoding": {
                "x": {"field": "g", "type": "nominal", "axis": null},
                "y": {"field": "mean", "type": "quantitative", "axis": null}
              }
            }
          ]
        }
      ],
      "spacing": 50,
      "bounds": "flush"
    }
  ]
}
